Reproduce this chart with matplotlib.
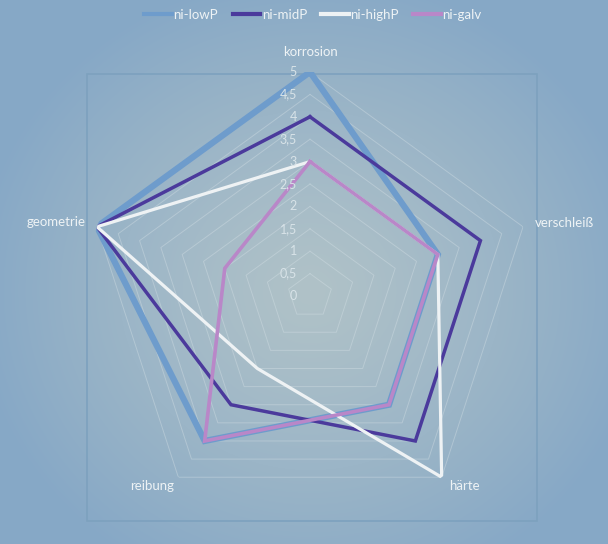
import numpy as np
import matplotlib
matplotlib.use("Agg")
import matplotlib.pyplot as plt
from matplotlib.patches import Rectangle
from matplotlib.lines import Line2D

plt.rcParams['font.family'] = ['Lato', 'DejaVu Sans']

categories = ['korrosion', 'verschleiß', 'härte', 'reibung', 'geometrie']
series_names = ['ni-lowP', 'ni-midP', 'ni-highP', 'ni-galv']
ni_lowP = [5, 3, 3, 4, 5]
ni_midP = [4, 4, 4, 3, 5]
ni_highP = [3, 3, 5, 2, 5]
ni_galv = [3, 3, 3, 4, 2]
tick_values = [0, 0.5, 1, 1.5, 2, 2.5, 3, 3.5, 4, 4.5, 5]
tick_labels = ['0', '0,5', '1', '1,5', '2', '2,5', '3', '3,5', '4', '4,5', '5']

series = [ni_lowP, ni_midP, ni_highP, ni_galv]
colors = ['#6e9ccc', '#4b3a9c', '#eef2f4', '#b987c8']
widths = [4.5, 2.5, 2.3, 2.6]

W, H = 608, 544
fig = plt.figure(figsize=(W / 100, H / 100), dpi=100)

# background gradient
bg = fig.add_axes([0, 0, 1, 1], zorder=-10)
yy, xx = np.mgrid[0:H, 0:W]
d = np.sqrt(((xx - 310) / 340.0) ** 2 + ((yy - 290) / 320.0) ** 2)
d = np.clip(d, 0, 1) ** 1.2
c0 = np.array([0xb0, 0xc2, 0xc8]) / 255
c1 = np.array([0x86, 0xa8, 0xc6]) / 255
img = c0[None, None, :] * (1 - d[..., None]) + c1[None, None, :] * d[..., None]
bg.imshow(img, extent=[0, W, H, 0], aspect='auto')
bg.set_xlim(0, W)
bg.set_ylim(H, 0)
bg.axis('off')
bg.add_patch(Rectangle((87, 74), 537 - 87, 521 - 74, fill=False,
                       edgecolor='#7da1be', lw=1.2))

cx, cy, R = 310, 296, 224
ax = fig.add_axes([(cx - R) / W, (H - cy - R) / H, 2 * R / W, 2 * R / H],
                  projection='polar')
ax.patch.set_alpha(0)
ax.set_theta_offset(np.pi / 2)
ax.set_theta_direction(-1)
ax.set_ylim(0, 5)
ax.set_xticks([])
ax.set_yticks([])
ax.grid(False)
ax.spines['polar'].set_visible(False)

n = len(categories)
angles = np.linspace(0, 2 * np.pi, n, endpoint=False)
closed = np.append(angles, angles[0])

# pentagon gridlines
for v in tick_values[1:]:
    ax.plot(closed, [v] * (n + 1), color='#d6e1e6', lw=0.7, alpha=0.4, zorder=1)

for vals, name, col, lw in zip(series, series_names, colors, widths):
    ax.plot(closed, list(vals) + [vals[0]], color=col, lw=lw, label=name,
            zorder=3, solid_joinstyle='miter')

# radial tick labels
for v, lab in zip(tick_values, tick_labels):
    ax.annotate(lab, xy=(0, v), xytext=(-13, 0), textcoords='offset pixels',
                ha='right', va='center', color='#d8e3e8', fontsize=9)

# category labels
offsets = [(0, 20), (41, 4), (23, -9), (-26, -9), (-41, 5)]
for ang, cat, off in zip(angles, categories, offsets):
    ax.annotate(cat, xy=(ang, 5), xytext=off, textcoords='offset pixels',
                ha='center', va='center', color='#eef3f5', fontsize=9.5,
                annotation_clip=False)

handles = [Line2D([], [], color=c, lw=3) for c in colors]
fig.legend(handles, series_names, loc='center', bbox_to_anchor=(0.515, 1 - 15 / H),
           ncol=4, frameon=False, handlelength=2.1, handletextpad=0.1,
           columnspacing=1.1, fontsize=9.5, labelcolor='#eef3f5')

fig.savefig('out.png', dpi=100)
